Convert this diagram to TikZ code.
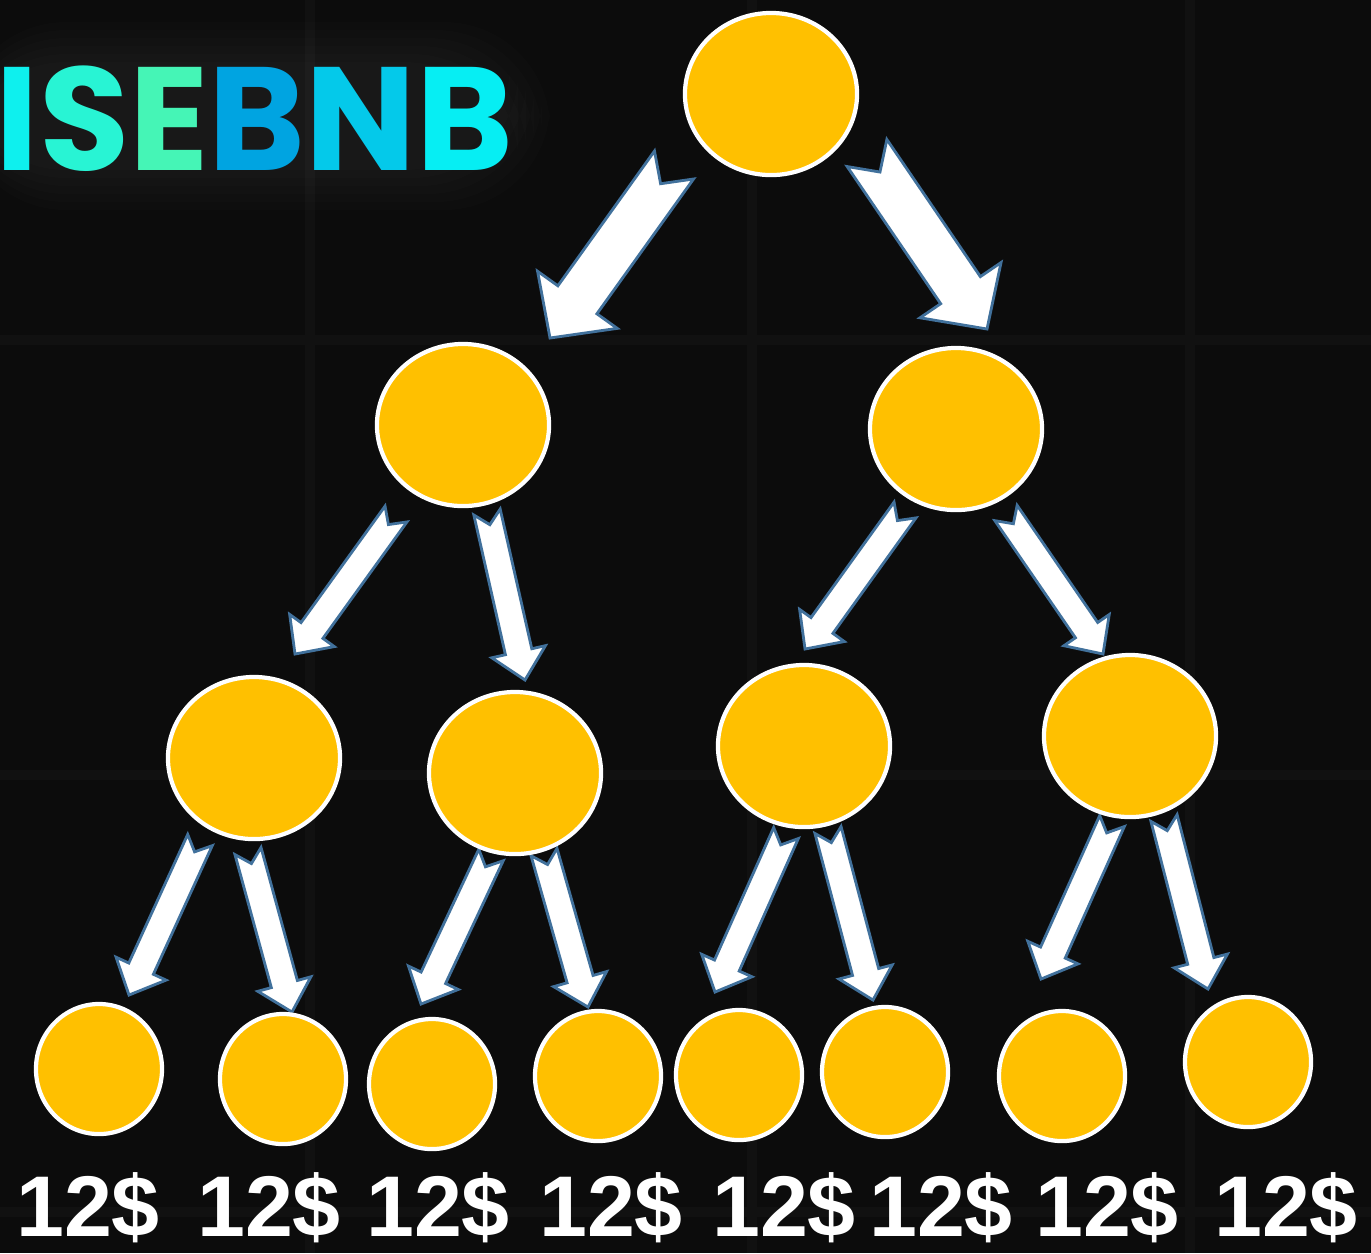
\documentclass[tikz,border=0pt]{standalone}
\usepackage{fontspec}
\usetikzlibrary{calc,shapes.geometric}
\newfontfamily\titlefont{Poppins}
\newfontfamily\labelfont{Liberation Sans}

\definecolor{bgcolor}{HTML}{0C0C0C}
\definecolor{gridcolor}{HTML}{111111}
\definecolor{coinyellow}{HTML}{FFC000}
\definecolor{arrowline}{HTML}{41719C}
\definecolor{tA}{HTML}{0EF0EE}
\definecolor{tB}{HTML}{28F4D4}
\definecolor{tC}{HTML}{45F5B6}
\definecolor{tD}{HTML}{00A4E1}
\definecolor{tE}{HTML}{04C9EA}
\definecolor{tF}{HTML}{06EEF3}

\tikzset{
  coin/.style={ellipse,fill=coinyellow,draw=white,line width=1.2pt,inner sep=0pt},
  bigcoin/.style={coin,minimum width=1.72cm,minimum height=1.62cm},
  leafcoin/.style={coin,minimum width=1.26cm,minimum height=1.30cm},
  arrowbox/.style={fill=white,draw=arrowline,line width=0.8pt,line join=miter},
  amount/.style={anchor=base,inner sep=0pt,text=white,
    font=\labelfont\bfseries\fontsize{24.5}{24.5}\selectfont}
}

% block arrow: tail, tip, half shaft, half head, head length, notch
\newcommand{\blockarrow}[6]{%
  \coordinate (hb) at ($(#2)!#5!(#1)$);
  \filldraw[arrowbox] ($(#1)!#3!90:(#2)$) -- ($(#1)!#6!(#2)$) -- ($(#1)!#3!-90:(#2)$)
    -- ($(hb)!#3!-90:(#2)$) -- ($(hb)!#4!-90:(#2)$) -- (#2)
    -- ($(hb)!#4!90:(#2)$) -- ($(hb)!#3!90:(#2)$) -- cycle;}
\newcommand{\bigarrow}[2]{\blockarrow{#1}{#2}{0.24cm}{0.49cm}{0.47cm}{0.23cm}}
\newcommand{\smallarrow}[2]{\blockarrow{#1}{#2}{0.135cm}{0.275cm}{0.29cm}{0.13cm}}

\begin{document}
\begin{tikzpicture}[x=0.01cm,y=-0.01cm]
\fill[bgcolor] (0,0) rectangle (1371,1253);
\useasboundingbox (0,0) rectangle (1371,1253);
\foreach \x in {310,752,1190}
  \draw[gridcolor,line width=3pt] (\x,0) -- (\x,1253);
\foreach \y in {340,775,1212}
  \draw[gridcolor,line width=3pt] (0,\y) -- (1371,\y);

% title glow
\foreach \d in {0,8,...,40}
  \fill[white,opacity=0.01,rounded corners=30] (-40,22+\d) rectangle (550-\d,210-\d);
\node[anchor=base west,inner sep=0pt,font=\titlefont\bfseries\fontsize{41.8}{41.8}\selectfont]
  (title) at (-5,170) {\textcolor{tA}{I}\textcolor{tB}{S}\textcolor{tC}{E}\textcolor{tD}{B}\textcolor{tE}{N}\textcolor{tF}{B}};

% arrow tails and tips
\foreach \a/\tx/\ty/\px/\py in {m/674/165/550/338, n/867/153/987/329,
    k/396/514/295/654, l/487/512/525/680, i/905/510/805/649, j/1006/513/1103/654,
    a/200/840/129/995, b/248/851/292/1012, c/491/855/421/1004, d/544/852/588/1007,
    e/786/833/715/992, f/828/830/873/1000, g/1112/821/1041/979, h/1164/818/1208/989}
  {\coordinate (t\a) at (\tx,\ty); \coordinate (p\a) at (\px,\py);}

\foreach \a in {m,n}
  \bigarrow{t\a}{p\a};
\foreach \a in {k,l,i,j,a,b,c,d,e,f,g,h}
  \smallarrow{t\a}{p\a};

% coins
\node[bigcoin] (top) at (771,94) {};
\node[bigcoin] (left) at (463,425) {};
\node[bigcoin] (right) at (956,429) {};
\node[bigcoin] (ll) at (254,758) {};
\node[bigcoin] (lr) at (515,773) {};
\node[bigcoin] (rl) at (804,746) {};
\node[bigcoin] (rr) at (1130,736) {};
\foreach \x/\y [count=\i] in {99/1069,283/1079,432/1084,598/1076,739/1075,885/1072,1062/1076,1248/1062}
  \node[leafcoin] (leaf\i) at (\x,\y) {};

% payouts
\foreach \x [count=\i] in {88,269,438,611,784,941,1107,1286}
  \node[amount] (amt\i) at (\x,1236) {12\$};
\end{tikzpicture}
\end{document}
